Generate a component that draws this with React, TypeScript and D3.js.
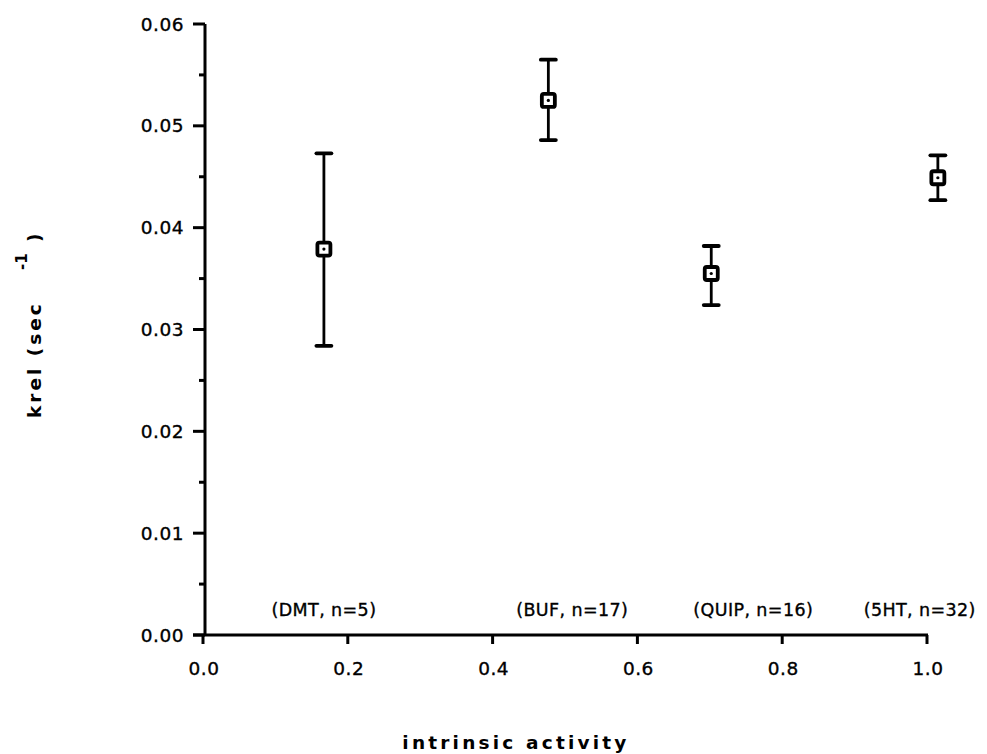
import React from "react";
import * as d3 from "d3";

const W = 987;
const H = 754;

// data
const drugs = ["DMT", "BUF", "QUIP", "5HT"];
const counts = [5, 17, 16, 32];
const activity = [0.167, 0.477, 0.702, 1.015];
const krel = [0.0379, 0.0525, 0.0355, 0.0449];
const errLow = [0.0284, 0.0486, 0.0324, 0.0427];
const errHigh = [0.0473, 0.0565, 0.0382, 0.0471];
const labelX = [0.167, 0.51, 0.76, 0.99];

const xTicks = [0, 0.2, 0.4, 0.6, 0.8, 1.0];
const yTicks = [0, 0.01, 0.02, 0.03, 0.04, 0.05, 0.06];
const yMinor = [0.005, 0.015, 0.025, 0.035, 0.045, 0.055];

const x = d3.scaleLinear().domain([0, 1]).range([203, 927]);
const y = d3.scaleLinear().domain([0, 0.06]).range([635, 24]);

const font = "'DejaVu Sans', 'Liberation Sans', Arial, sans-serif";

export default function App() {
  const y0 = y(0);
  const x0 = 205;
  return (
    <svg
      width={W}
      height={H}
      style={{ position: "absolute", left: 0, top: 0, background: "#fff" }}
      fontFamily={font}
    >
      {/* y axis */}
      <line x1={x0} x2={x0} y1={y(0.06)} y2={y0 + 1} stroke="#000" strokeWidth={3} />
      {yTicks.map((t) => (
        <g key={t}>
          <line x1={x0 - 12} x2={x0} y1={y(t)} y2={y(t)} stroke="#000" strokeWidth={3} />
          <text x={x0 - 21} y={y(t)} dy="0.36em" textAnchor="end" fontSize={18.5} letterSpacing={0.5} stroke="#000" strokeWidth={0.35}>
            {d3.format(".2f")(t)}
          </text>
        </g>
      ))}
      {yMinor.map((t) => (
        <line key={t} x1={x0 - 6} x2={x0} y1={y(t)} y2={y(t)} stroke="#000" strokeWidth={3} />
      ))}

      {/* x axis */}
      <line x1={x0 - 12} x2={x(1) + 1} y1={y0} y2={y0} stroke="#000" strokeWidth={3} />
      {xTicks.map((t) => (
        <g key={t}>
          <line x1={x(t)} x2={x(t)} y1={y0} y2={y0 + 9} stroke="#000" strokeWidth={3} />
          <text x={x(t) + 1} y={y0 + 40} textAnchor="middle" fontSize={18.5} letterSpacing={0.5} stroke="#000" strokeWidth={0.35}>
            {d3.format(".1f")(t)}
          </text>
        </g>
      ))}

      {/* error bars + markers */}
      {drugs.map((d, i) => {
        const cx = x(activity[i]);
        const cy = y(krel[i]);
        return (
          <g key={d}>
            <line x1={cx} x2={cx} y1={y(errHigh[i])} y2={y(errLow[i])} stroke="#000" strokeWidth={2.8} />
            <line x1={cx - 7.5} x2={cx + 7.5} y1={y(errHigh[i])} y2={y(errHigh[i])} stroke="#000" strokeWidth={3.8} strokeLinecap="round" />
            <line x1={cx - 7.5} x2={cx + 7.5} y1={y(errLow[i])} y2={y(errLow[i])} stroke="#000" strokeWidth={3.8} strokeLinecap="round" />
            <rect x={cx - 6.5} y={cy - 6.5} width={13} height={13} rx={2} fill="#fff" stroke="#000" strokeWidth={3.8} />
            <circle cx={cx} cy={cy} r={1.6} fill="#000" />
          </g>
        );
      })}

      {/* group labels */}
      {drugs.map((d, i) => (
        <text key={d} x={x(labelX[i])} y={y0 - 19} textAnchor="middle" fontSize={17.5} letterSpacing={0.4} stroke="#000" strokeWidth={0.35}>
          {`(${d}, n=${counts[i]})`}
        </text>
      ))}

      {/* axis titles */}
      <text x={516} y={749} textAnchor="middle" fontSize={18.5} fontWeight="bold" letterSpacing={3.2}>
        intrinsic activity
      </text>
      <g transform="translate(41,418) rotate(-90)" fontSize={18.5} fontWeight="bold">
        <text x={0} y={0} letterSpacing={3}>krel (sec</text>
        <text x={148} y={-14} fontSize={15}>-1</text>
        <text x={176} y={0}>)</text>
      </g>
    </svg>
  );
}
